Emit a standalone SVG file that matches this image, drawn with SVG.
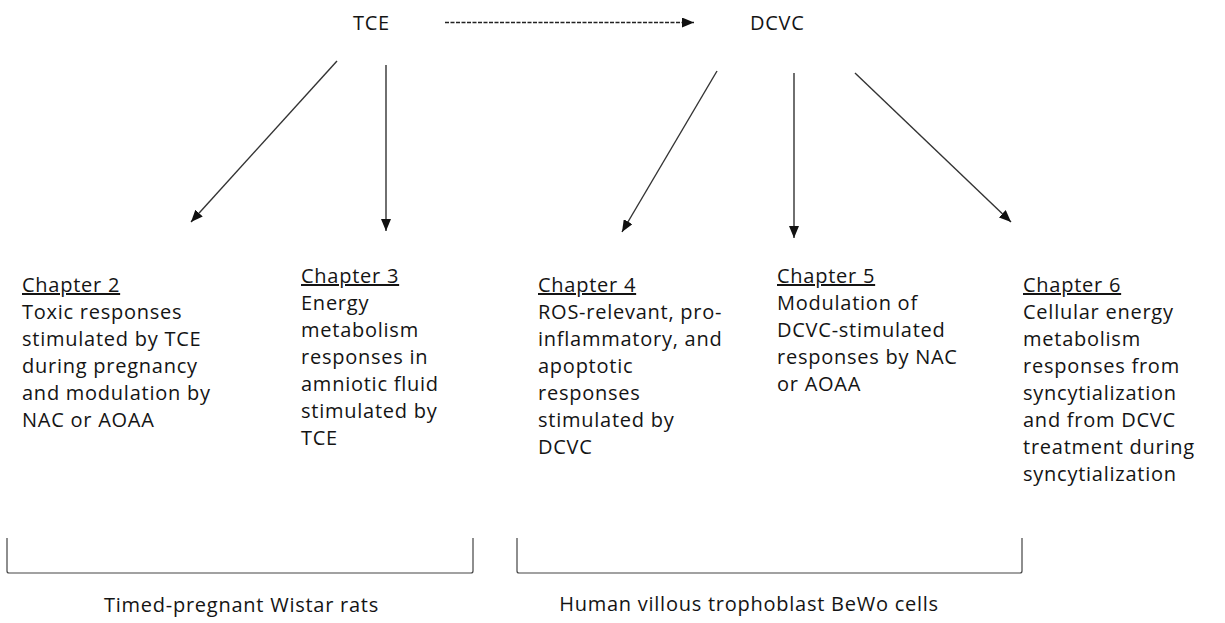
<svg xmlns="http://www.w3.org/2000/svg" width="1225" height="623" viewBox="0 0 1225 623">
<defs>
<style>
text{font-family:"Open Sans","Noto Sans","Liberation Sans",sans-serif;font-size:20px;fill:#141414;letter-spacing:0.75px}
.h{text-decoration:underline}
.c{stroke:#333;stroke-width:1.4;fill:none}
.d{stroke:#222;stroke-width:1.4;fill:none;stroke-dasharray:4 1.5}
.b{stroke:#444;stroke-width:1.2;fill:none}
</style>
<marker id="ah" viewBox="0 0 12 10" refX="12" refY="5" markerWidth="12" markerHeight="10" markerUnits="userSpaceOnUse" orient="auto">
<path d="M0,0 L12,5 L0,10 Z" fill="#111"/>
</marker>
</defs>
<rect width="1225" height="623" fill="#fff"/>
<g id="tce"><text x="353" y="30">TCE</text></g>
<g id="dcvc"><text x="750" y="30">DCVC</text></g>
<g id="connectors">
<line class="d" x1="445" y1="22.5" x2="694" y2="22.5" marker-end="url(#ah)"/>
<line class="c" x1="337" y1="61" x2="191" y2="222" marker-end="url(#ah)"/>
<line class="c" x1="386" y1="65" x2="386" y2="231" marker-end="url(#ah)"/>
<line class="c" x1="717" y1="71" x2="622" y2="232" marker-end="url(#ah)"/>
<line class="c" x1="794" y1="73" x2="794" y2="238" marker-end="url(#ah)"/>
<line class="c" x1="855" y1="73" x2="1011" y2="222" marker-end="url(#ah)"/>
</g>
<g id="ch2">
<text x="22" y="292"><tspan class="h">Chapter 2</tspan><tspan x="22" dy="27">Toxic responses</tspan><tspan x="22" dy="27">stimulated by TCE</tspan><tspan x="22" dy="27">during pregnancy</tspan><tspan x="22" dy="27">and modulation by</tspan><tspan x="22" dy="27">NAC or AOAA</tspan></text>
</g>
<g id="ch3">
<text x="301" y="283"><tspan class="h">Chapter 3</tspan><tspan x="301" dy="27">Energy</tspan><tspan x="301" dy="27">metabolism</tspan><tspan x="301" dy="27">responses in</tspan><tspan x="301" dy="27">amniotic fluid</tspan><tspan x="301" dy="27">stimulated by</tspan><tspan x="301" dy="27">TCE</tspan></text>
</g>
<g id="ch4">
<text x="538" y="292"><tspan class="h">Chapter 4</tspan><tspan x="538" dy="27">ROS-relevant, pro-</tspan><tspan x="538" dy="27">inflammatory, and</tspan><tspan x="538" dy="27">apoptotic</tspan><tspan x="538" dy="27">responses</tspan><tspan x="538" dy="27">stimulated by</tspan><tspan x="538" dy="27">DCVC</tspan></text>
</g>
<g id="ch5">
<text x="777" y="283"><tspan class="h">Chapter 5</tspan><tspan x="777" dy="27">Modulation of</tspan><tspan x="777" dy="27">DCVC-stimulated</tspan><tspan x="777" dy="27">responses by NAC</tspan><tspan x="777" dy="27">or AOAA</tspan></text>
</g>
<g id="ch6">
<text x="1023" y="292"><tspan class="h">Chapter 6</tspan><tspan x="1023" dy="27">Cellular energy</tspan><tspan x="1023" dy="27">metabolism</tspan><tspan x="1023" dy="27">responses from</tspan><tspan x="1023" dy="27">syncytialization</tspan><tspan x="1023" dy="27">and from DCVC</tspan><tspan x="1023" dy="27">treatment during</tspan><tspan x="1023" dy="27">syncytialization</tspan></text>
</g>
<g id="rats">
<path class="b" d="M7,538 L7,571 Q7,573 9,573 L471,573 Q473,573 473,571 L473,538"/>
<text x="241.5" y="612" text-anchor="middle">Timed-pregnant Wistar rats</text>
</g>
<g id="bewo">
<path class="b" d="M517,538 L517,571 Q517,573 519,573 L1020,573 Q1022,573 1022,571 L1022,538"/>
<text x="749" y="611" text-anchor="middle">Human villous trophoblast BeWo cells</text>
</g>
</svg>
